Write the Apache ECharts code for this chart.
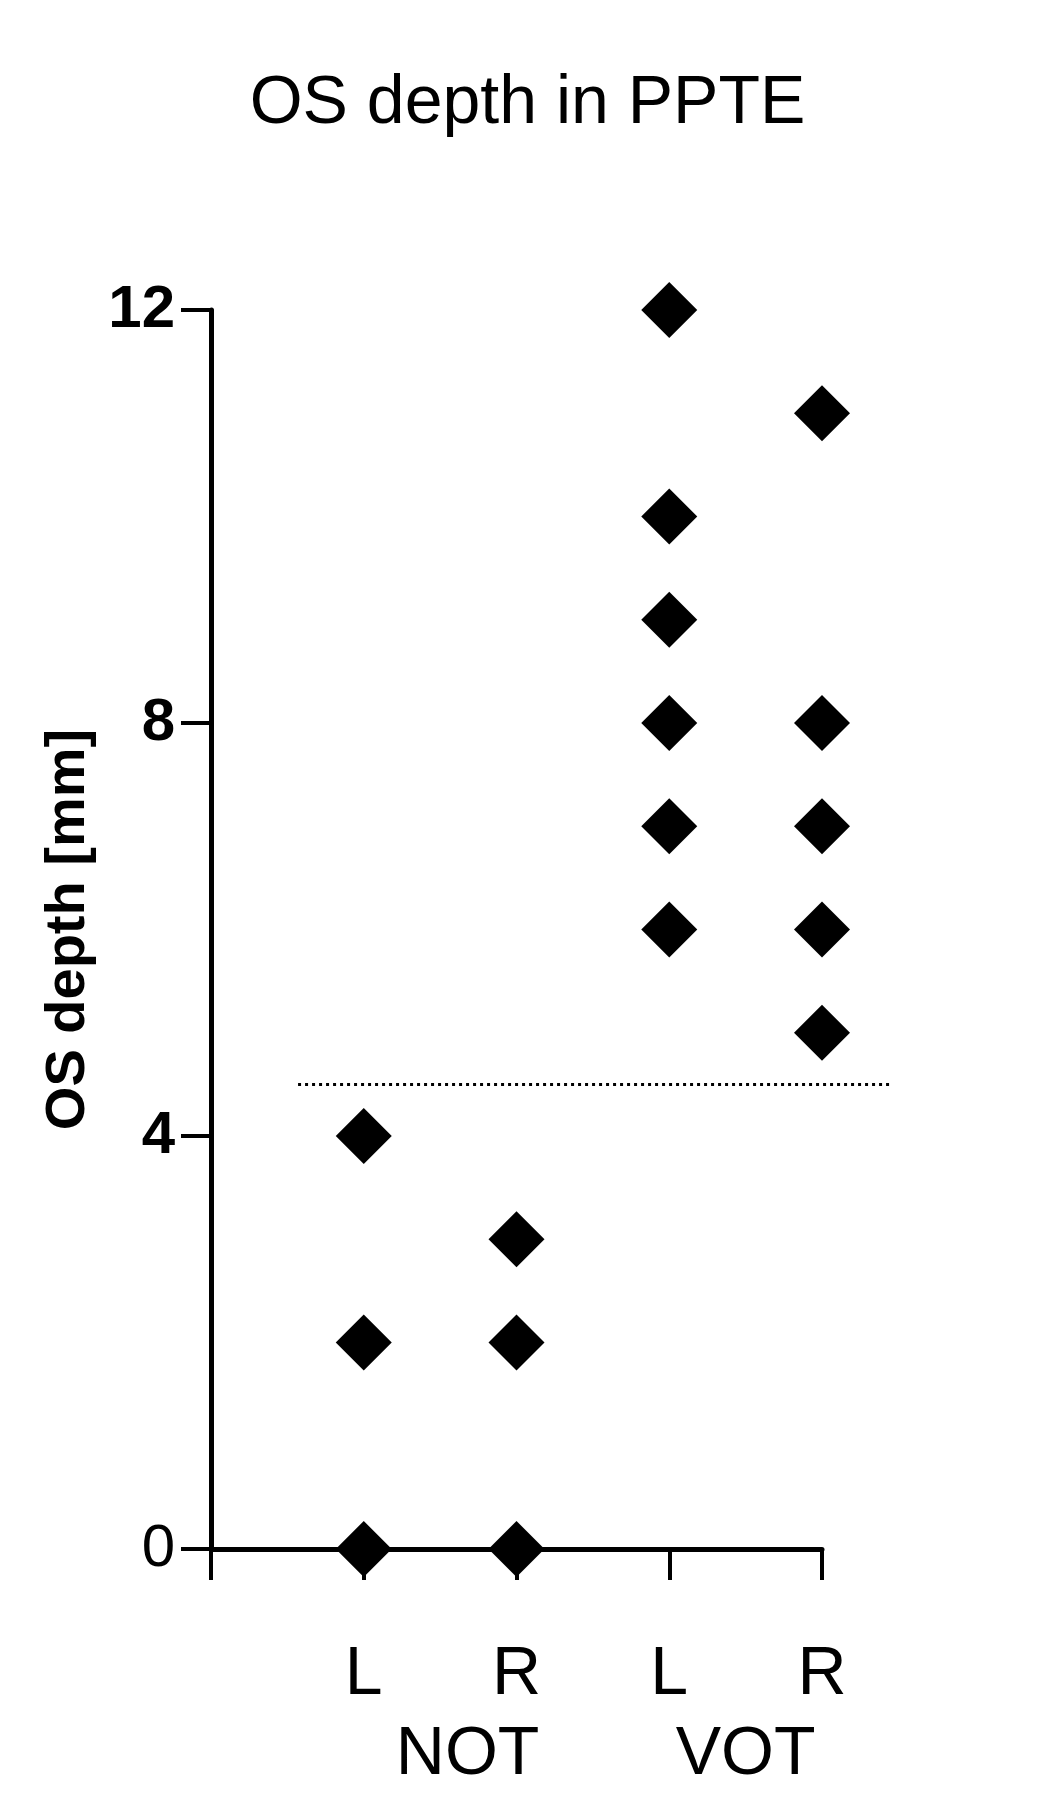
<!DOCTYPE html>
<html>
<head>
<meta charset="utf-8">
<script src="https://cdn.jsdelivr.net/npm/echarts@6/dist/echarts.min.js"></script>
<style>
  html, body { margin: 0; padding: 0; background: #fff; }
  #chart { width: 1055px; height: 1800px; }
</style>
</head>
<body>
<div id="chart"></div>
<script>
// categories on the x axis (positions 1..4)
const sideLabels = ['L', 'R', 'L', 'R']
const groupNames = ['NOT', 'VOT']
const groupCenters = [1.68, 3.5]

// OS depth [mm] per group/side
const notL = [0, 2, 4]
const notR = [0, 2, 3]
const votL = [6, 7, 8, 9, 10, 12]
const votR = [5, 6, 7, 8, 11]

// y ticks
const yMin = 0
const yMax = 12
const yStep = 4

// dotted cut-off line
const cutoff = 4.5
const cutoffSpan = [0.57, 4.46]

const FONT = 'Liberation Sans, Arial, sans-serif'
const chart = echarts.init(document.getElementById('chart'))

const columns = [notL, notR, votL, votR]
const points = []
columns.forEach((vals, i) => {
  vals.forEach(v => points.push([i + 1, v]))
})

const option = {
  backgroundColor: '#fff',
  animation: false,
  textStyle: { fontFamily: FONT, color: '#000' },
  title: {
    text: 'OS depth in PPTE',
    left: 'center',
    top: 70,
    padding: 0,
    textStyle: { fontSize: 68, fontWeight: 'normal', color: '#000', fontFamily: FONT }
  },
  grid: { left: 211, right: 233, top: 310, bottom: 251, containLabel: false },
  xAxis: {
    type: 'value',
    min: 0,
    max: sideLabels.length,
    interval: 1,
    splitLine: { show: false },
    axisLine: { show: true, lineStyle: { color: '#000', width: 5 } },
    axisTick: { show: true, inside: false, length: 31, lineStyle: { color: '#000', width: 4 } },
    axisLabel: {
      margin: 92,
      fontSize: 68,
      color: '#000',
      formatter: v => (v >= 1 && v <= sideLabels.length ? sideLabels[v - 1] : '')
    }
  },
  yAxis: {
    type: 'value',
    min: yMin,
    max: yMax,
    interval: yStep,
    name: 'OS depth [mm]',
    nameLocation: 'middle',
    nameGap: 114,
    nameTextStyle: { fontSize: 56, fontWeight: 'bold', color: '#000' },
    splitLine: { show: false },
    axisLine: { show: true, lineStyle: { color: '#000', width: 5 } },
    axisTick: { show: true, inside: false, length: 30, lineStyle: { color: '#000', width: 4 } },
    axisLabel: {
      margin: 36,
      color: '#000',
      formatter: v => (v === 0 ? '{z|0}' : '{b|' + v + '}'),
      rich: {
        b: { fontSize: 60, fontWeight: 'bold', color: '#000' },
        z: { fontSize: 60, fontWeight: 'normal', color: '#000' }
      }
    }
  },
  series: [
    {
      type: 'scatter',
      symbol: 'diamond',
      symbolSize: [56, 56],
      clip: false,
      itemStyle: { color: '#000', opacity: 1 },
      data: points,
      z: 5
    }
  ]
}

chart.setOption(option)

// dotted cut-off line and group names, placed through the chart's own scales
const toPx = p => chart.convertToPixel({ gridIndex: 0 }, p)
const lineA = toPx([cutoffSpan[0], cutoff])
const lineB = toPx([cutoffSpan[1], cutoff])
const baseY = toPx([0, 0])[1]

chart.setOption({
  graphic: [
    {
      type: 'line',
      z: 3,
      shape: { x1: lineA[0], y1: lineA[1], x2: lineB[0], y2: lineB[1] },
      style: { stroke: '#000', lineWidth: 3, lineDash: [3, 4] }
    }
  ].concat(groupNames.map((name, i) => ({
    type: 'text',
    x: toPx([groupCenters[i], 0])[0],
    y: baseY + 172,
    style: {
      text: name,
      fontSize: 68,
      fontFamily: FONT,
      fill: '#000',
      align: 'center',
      verticalAlign: 'top'
    }
  })))
})
</script>
</body>
</html>
